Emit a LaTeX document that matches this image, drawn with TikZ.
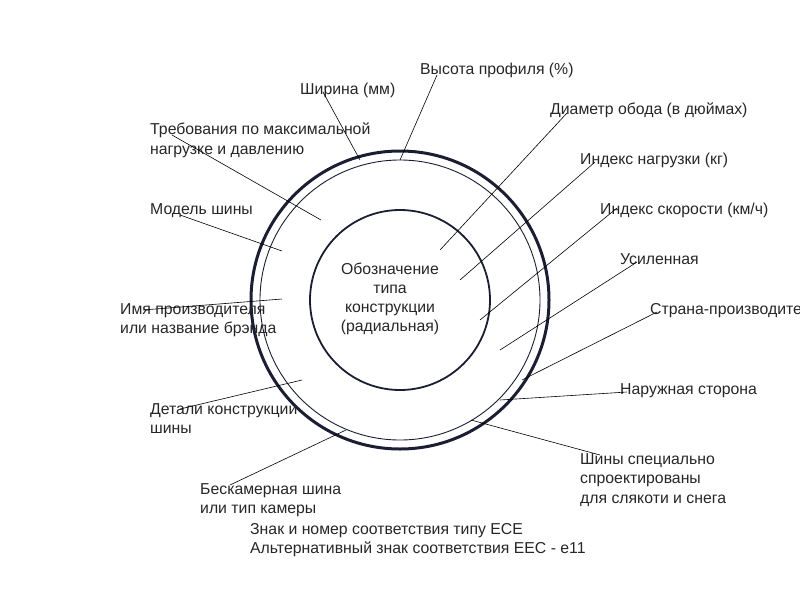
\documentclass[tikz,border=0pt]{standalone}
\usepackage{fontspec}
\setmainfont{Liberation Sans}
\definecolor{navy}{HTML}{1B1E33}
\begin{document}
\begin{tikzpicture}[x=1pt,y=-1pt,
  lbl/.style={anchor=north west,inner sep=0pt,text=black!85,font=\fontsize{15.8}{19.5}\selectfont,align=left},
  ld/.style={draw=black,line width=0.6pt},
  circ/.style={draw=navy}]
\useasboundingbox (0,0) rectangle (800,600);
\clip (0,0) rectangle (800,600);
\draw[circ,line width=3pt] (400,300) circle[radius=149];
\draw[circ,line width=0.9pt] (400,300) circle[radius=140];
\draw[circ,line width=1.8pt] (400,300) circle[radius=90];
\node[anchor=center,align=center,text=black!85,font=\fontsize{15.8}{19}\selectfont] (c) at (390,299) {Обозначение\\типа\\конструкции\\(радиальная)};
% labels
\node[lbl] (t1) at (420,63) {Высота профиля (\%)};
\node[lbl] (t2) at (300,83) {Ширина (мм)};
\node[lbl] (t3) at (150,123) {Требования по максимальной\\нагрузке и давлению};
\node[lbl] (t4) at (150,203) {Модель шины};
\node[lbl] (t5) at (120,303) {Имя производителя\\или название брэнда};
\node[lbl] (t6) at (150,403) {Детали конструкции\\шины};
\node[lbl] (t7) at (200,483) {Бескамерная шина\\или тип камеры};
\node[lbl] (t8) at (250,523) {Знак и номер соответствия типу ECE\\Альтернативный знак соответствия EEC - e11};
\node[lbl] (t9) at (550,103) {Диаметр обода (в дюймах)};
\node[lbl] (t10) at (580,153) {Индекс нагрузки (кг)};
\node[lbl] (t11) at (600,203) {Индекс скорости (км/ч)};
\node[lbl] (t12) at (620,253) {Усиленная};
\node[lbl] (t13) at (650,303) {Страна-производитель};
\node[lbl] (t14) at (620,383) {Наружная сторона};
\node[lbl] (t15) at (580,453) {Шины специально\\спроектированы\\для слякоти и снега};
% connector endpoints
\coordinate (a1) at (437,75);  \coordinate (b1) at (400,160);
\coordinate (a2) at (323,92);  \coordinate (b2) at (360,160);
\coordinate (a3) at (172,135); \coordinate (b3) at (321,220);
\coordinate (a4) at (180,215); \coordinate (b4) at (282,251);
\coordinate (a5) at (143,310); \coordinate (b5) at (282,299);
\coordinate (a6) at (180,409); \coordinate (b6) at (302,380);
\coordinate (a7) at (230,485); \coordinate (b7) at (346,430);
\coordinate (a9) at (567,113); \coordinate (b9) at (440,250);
\coordinate (a10) at (595,162); \coordinate (b10) at (460,280);
\coordinate (a11) at (617,208); \coordinate (b11) at (480,320);
\coordinate (a12) at (637,262); \coordinate (b12) at (500,350);
\coordinate (a13) at (657,312); \coordinate (b13) at (522,380);
\coordinate (a14) at (627,392); \coordinate (b14) at (500,400);
\coordinate (a15) at (600,455); \coordinate (b15) at (471,420);
\foreach \i in {1,2,3,4,5,6,7,9,10,11,12,13,14,15} \draw[ld] (a\i) -- (b\i);
\end{tikzpicture}
\end{document}
